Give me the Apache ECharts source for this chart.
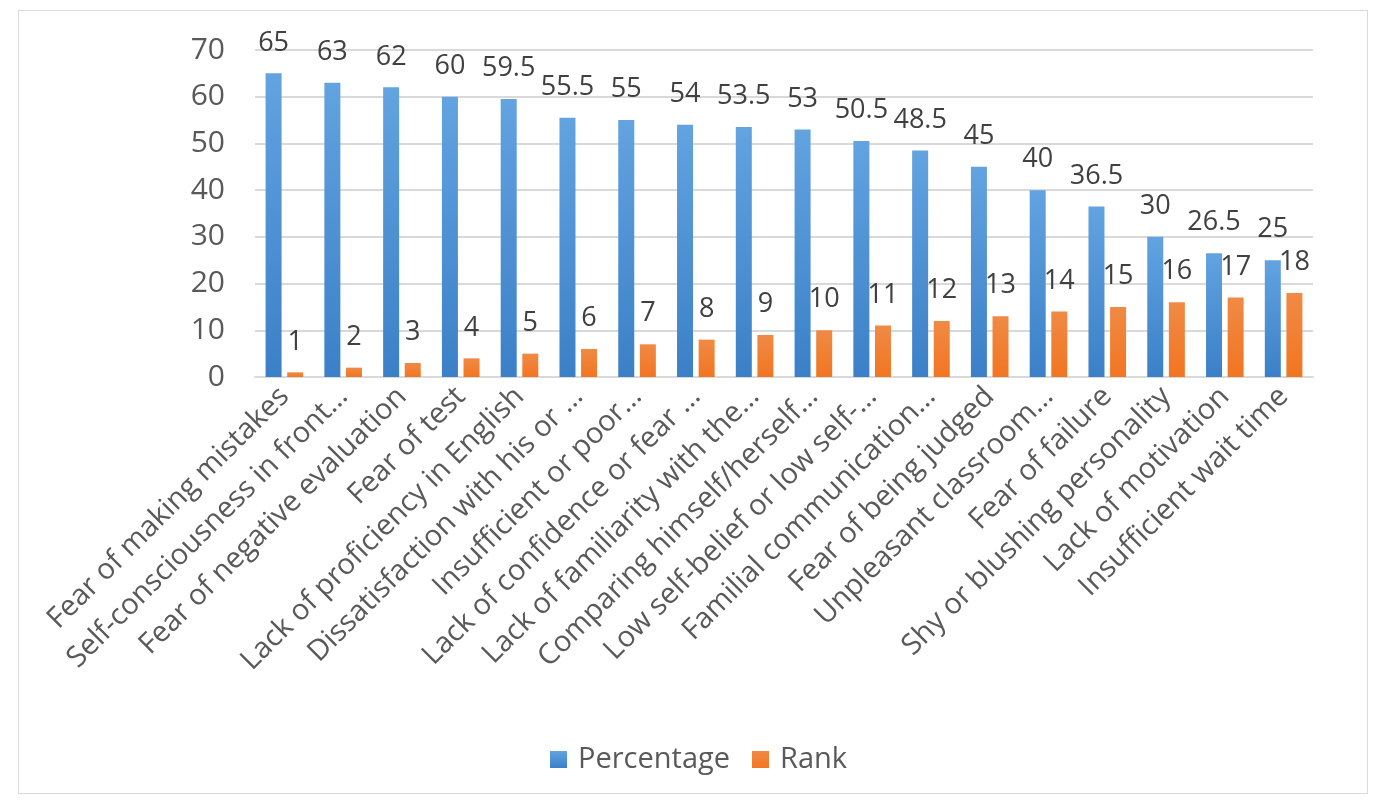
<!DOCTYPE html>
<html>
<head>
<meta charset="utf-8">
<script src="https://cdn.jsdelivr.net/npm/echarts@6/dist/echarts.min.js"></script>
<style>
html,body{margin:0;padding:0;background:#fff;}
#frame{position:absolute;left:18px;top:10px;width:1350px;height:784px;border:1px solid #d9d9d9;box-sizing:border-box;}
#chart{position:absolute;left:0;top:0;width:1374px;height:803px;}
</style>
</head>
<body>
<div id="frame"></div>
<div id="chart"></div>
<script>
const categories = [
  "Fear of making mistakes",
  "Self-consciousness in front…",
  "Fear of negative evaluation",
  "Fear of test",
  "Lack of proficiency in English",
  "Dissatisfaction with his or …",
  "Insufficient or poor…",
  "Lack of confidence or fear …",
  "Lack of familiarity with the…",
  "Comparing himself/herself…",
  "Low self-belief or low self-…",
  "Familial communication…",
  "Fear of being judged",
  "Unpleasant classroom…",
  "Fear of failure",
  "Shy or blushing personality",
  "Lack of motivation",
  "Insufficient wait time"
];
const percentage = [65, 63, 62, 60, 59.5, 55.5, 55, 54, 53.5, 53, 50.5, 48.5, 45, 40, 36.5, 30, 26.5, 25];
const rank = [1, 2, 3, 4, 5, 6, 7, 8, 9, 10, 11, 12, 13, 14, 15, 16, 17, 18];
const yTicks = [0, 10, 20, 30, 40, 50, 60, 70];

const FONT = '"Open Sans", sans-serif';
const chart = echarts.init(document.getElementById('chart'));
chart.setOption({
  animation: false,
  grid: {left: 255, right: 61, top: 50, bottom: 426, containLabel: false},
  legend: {
    top: 740, left: 545,
    itemWidth: 17, itemHeight: 17, itemGap: 22,
    icon: 'rect',
    textStyle: {fontFamily: FONT, fontSize: 29, color: '#595959', padding: [0, 0, 0, 6]},
    data: ['Percentage', 'Rank']
  },
  xAxis: {
    type: 'category',
    data: categories,
    axisTick: {show: false},
    axisLine: {lineStyle: {color: '#d9d9d9', width: 2}},
    axisLabel: {rotate: 45, interval: 0, margin: 15, fontFamily: FONT, fontSize: 29, color: '#595959'}
  },
  yAxis: {
    type: 'value',
    min: yTicks[0], max: yTicks[yTicks.length - 1], interval: 10,
    axisLine: {show: false},
    axisTick: {show: false},
    splitLine: {lineStyle: {color: '#d9d9d9', width: 2}},
    axisLabel: {margin: 30, fontFamily: FONT, fontSize: 30, color: '#595959'}
  },
  series: [
    {
      name: 'Percentage', type: 'bar', data: percentage,
      barWidth: 16, barGap: '35%',
      itemStyle: {color: new echarts.graphic.LinearGradient(0, 0, 0, 1, [
        {offset: 0, color: '#62a3e0'}, {offset: 1, color: '#3b80c7'}])},
      label: {show: true, position: 'top', distance: 17, fontFamily: FONT, fontSize: 27, color: '#404040'}
    },
    {
      name: 'Rank', type: 'bar', data: rank,
      barWidth: 16,
      itemStyle: {color: new echarts.graphic.LinearGradient(0, 0, 0, 1, [
        {offset: 0, color: '#f08a45'}, {offset: 1, color: '#f27521'}])},
      label: {show: true, position: 'top', distance: 17, fontFamily: FONT, fontSize: 27, color: '#404040'}
    }
  ]
});
</script>
</body>
</html>
